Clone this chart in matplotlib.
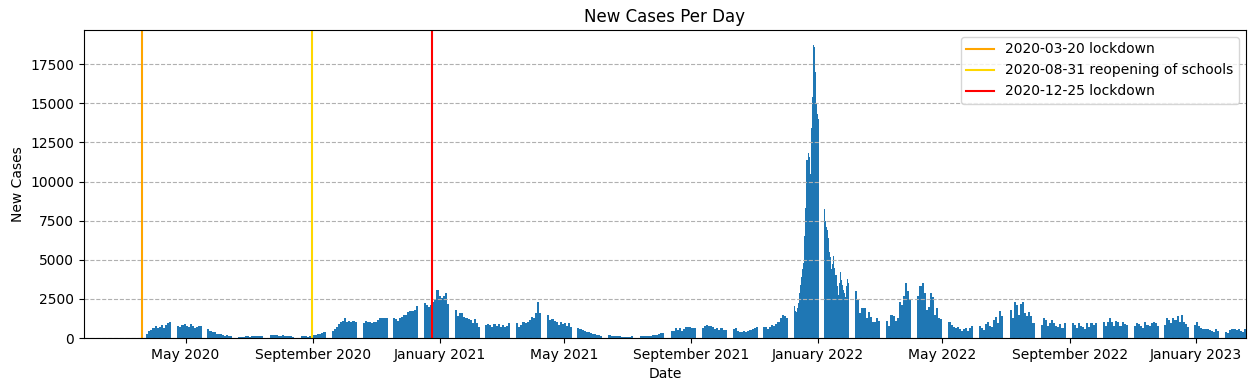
"""New cases per day with lockdown / school reopening markers"""
import numpy as np, pandas as pd, matplotlib; matplotlib.use("Agg")
import matplotlib.pyplot as plt
import matplotlib.dates as mdates

# each block of reported days starts on these dates and covers ~24 days
block_starts = ["2020-03-24", "2020-04-23", "2020-05-22", "2020-06-21", "2020-07-21", "2020-08-20",
                "2020-09-19", "2020-10-19", "2020-11-17", "2020-12-17", "2021-01-16", "2021-02-14",
                "2021-03-16", "2021-04-15", "2021-05-14", "2021-06-13", "2021-07-13", "2021-08-12",
                "2021-09-11", "2021-10-11", "2021-11-09", "2021-12-09", "2022-01-07", "2022-02-06",
                "2022-03-08", "2022-04-07", "2022-05-07", "2022-06-05", "2022-07-05", "2022-08-04",
                "2022-09-03", "2022-10-03", "2022-11-02", "2022-12-01", "2022-12-30", "2023-01-29"]
block_days = 24

block_values = [
    [280, 420, 520, 640, 760, 650, 720, 820, 650, 830, 940, 1000],
    [800, 720, 820, 880, 800, 720, 880, 770, 620, 720, 770, 740],
    [560, 420, 400, 360, 260, 260, 250, 190, 150, 170, 130, 150],
    [85, 70, 85, 110, 100, 90, 110, 110, 110, 120, 100, 160],
    [190, 190, 170, 170, 150, 150, 170, 150, 150, 130, 130, 60],
    [100, 100, 110, 90, 110, 200, 210, 200, 230, 260, 330, 370],
    [480, 580, 720, 880, 1000, 1100, 1300, 1050, 1100, 1050, 1100, 1000],
    [940, 1100, 1000, 1050, 950, 1050, 1000, 1150, 1300, 1250, 1300, 1280],
    [1250, 1200, 1100, 1250, 1350, 1450, 1500, 1650, 1700, 1700, 1800, 2050],
    [2220, 2100, 2000, 2100, 2300, 2400, 3100, 2700, 2550, 2700, 2850, 2200],
    [1790, 1410, 1620, 1620, 1320, 1260, 1220, 1150, 980, 1200, 980, 730],
    [830, 900, 830, 730, 870, 770, 900, 680, 830, 680, 770, 940],
    [940, 730, 830, 1050, 940, 1050, 1150, 1320, 1260, 1580, 2280, 1580],
    [1470, 1150, 1200, 1110, 1050, 830, 1050, 900, 940, 770, 980, 730],
    [620, 560, 510, 450, 400, 360, 300, 260, 240, 190, 170, 130],
    [190, 150, 130, 130, 110, 110, 85, 85, 65, 85, 65, 130],
    [110, 130, 130, 130, 150, 150, 170, 190, 210, 260, 300, 300],
    [450, 470, 620, 510, 620, 470, 560, 680, 730, 680, 620, 620],
    [620, 770, 830, 770, 770, 730, 560, 620, 510, 620, 510, 510],
    [560, 620, 420, 380, 400, 420, 400, 450, 520, 560, 620, 700],
    [700, 700, 560, 680, 830, 770, 900, 1050, 1260, 1470, 1410, 1260],
    [2050, 1700, 1650, 1900, 2250, 2900, 3400, 3900, 4400, 4780, 6500, 8300,
     11400, 11800, 11600, 10500, 13400, 15400, 18750, 18600, 17000, 15000, 14300, 14000],
    [8250, 7450, 7100, 6900, 6400, 5500, 5200, 4400, 4700, 5250, 4500, 4000,
     3300, 2750, 3500, 4250, 3700, 3400, 3100, 2850, 2650, 3300, 3800, 3500],
    [3000, 2400, 1600, 1950, 1900, 1300, 1650, 1350, 1050, 1000, 1250, 1100],
    [1100, 800, 1450, 1400, 1100, 1300, 2300, 2100, 2700, 3500, 3000, 2400],
    [2700, 3300, 3500, 2900, 1800, 2000, 2900, 2600, 1500, 1900, 1300, 1200],
    [1050, 850, 700, 620, 720, 580, 450, 600, 650, 450, 650, 750],
    [750, 650, 500, 900, 1050, 750, 700, 1150, 1350, 950, 1700, 1400],
    [1800, 1300, 2300, 2100, 1500, 2200, 2300, 1600, 1400, 1650, 1400, 950],
    [850, 1250, 1150, 750, 950, 1150, 950, 750, 700, 900, 650, 950],
    [950, 850, 650, 950, 800, 700, 550, 950, 700, 950, 850, 950],
    [1000, 800, 1050, 1300, 1000, 800, 1100, 1000, 750, 1050, 900, 850],
    [800, 950, 900, 750, 650, 1000, 850, 750, 950, 1050, 950, 750],
    [850, 1300, 1150, 950, 1250, 1150, 1400, 1050, 1450, 1000, 900, 700],
    [850, 1050, 750, 650, 550, 550, 600, 500, 450, 400, 550, 450],
    [400, 350, 500, 600, 550, 500, 550, 450, 400, 550, 500, 450],
]

event_dates = ["2020-03-20", "2020-08-31", "2020-12-25"]
event_labels = ["2020-03-20 lockdown", "2020-08-31 reopening of schools", "2020-12-25 lockdown"]
event_colors = ["orange", "gold", "red"]

fig = plt.figure(figsize=(12.56, 3.91), dpi=100)
ax = fig.add_axes([0.0669, 0.1355, 0.9251, 0.7878])

for start, vals in zip(block_starts, block_values):
    step = block_days / len(vals)
    x = mdates.date2num(pd.Timestamp(start)) + np.arange(len(vals)) * step
    ax.bar(x, vals, width=step, align="edge", color="C0", linewidth=0)

for d, lab, c in zip(event_dates, event_labels, event_colors):
    ax.axvline(mdates.date2num(pd.Timestamp(d)), color=c, label=lab)

ax.xaxis.set_major_locator(mdates.MonthLocator(bymonth=[1, 5, 9]))
ax.xaxis.set_major_formatter(mdates.DateFormatter("%B %Y"))
ax.set_xlim(mdates.date2num(pd.Timestamp("2020-01-24")), mdates.date2num(pd.Timestamp("2023-02-18")))
ax.grid(axis="y", linestyle="--")
ax.set_title("New Cases Per Day")
ax.set_xlabel("Date")
ax.set_ylabel("New Cases")
ax.legend(loc="upper right")
fig.savefig("out.png", dpi=100)
print("saved out.png")
